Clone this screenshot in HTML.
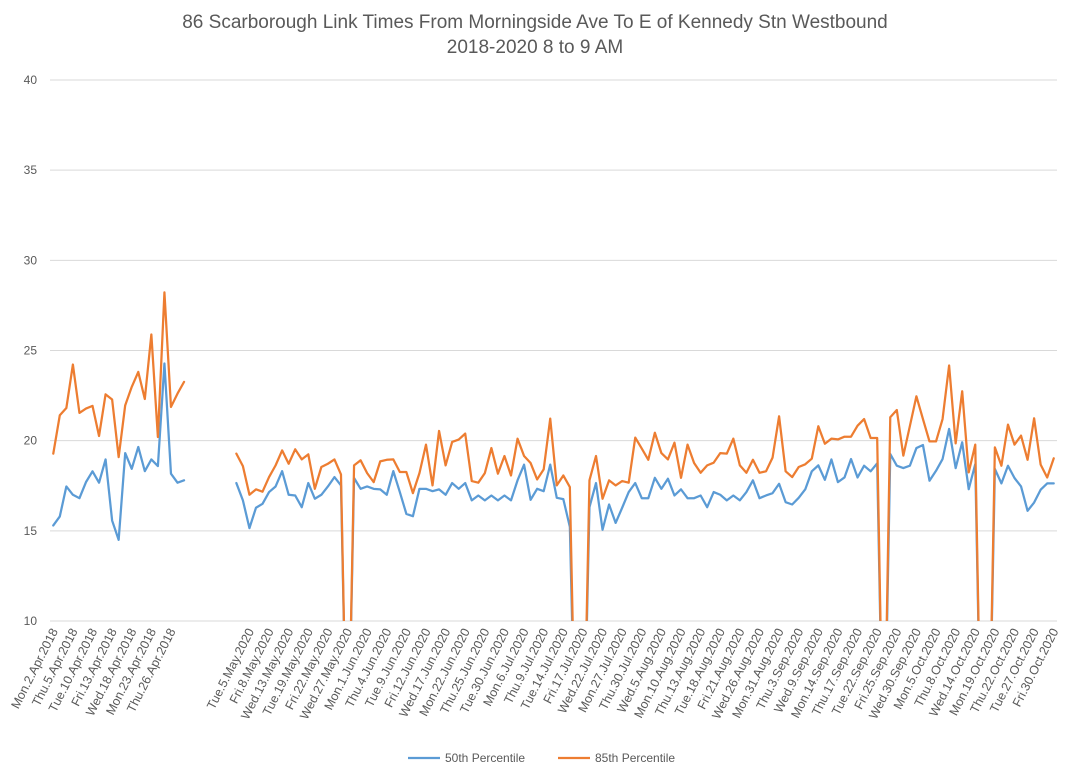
<!DOCTYPE html>
<html><head><meta charset="utf-8">
<style>
html,body{margin:0;padding:0;background:#fff;}
svg{display:block;font-family:"Liberation Sans",Arial,sans-serif;}
</style></head>
<body>
<svg id="chart" width="1070" height="770" viewBox="0 0 1070 770" xmlns="http://www.w3.org/2000/svg">
<rect x="0" y="0" width="1070" height="770" fill="#fff"/>
<text x="535" y="28" text-anchor="middle" font-size="19" fill="#595959">86 Scarborough Link Times From Morningside Ave To E of Kennedy Stn Westbound</text>
<text x="535" y="53" text-anchor="middle" font-size="19" fill="#595959">2018-2020 8 to 9 AM</text>
<defs><clipPath id="plotclip"><rect x="48" y="78" width="1012" height="543"/></clipPath></defs>
<g id="grid"></g>
<g id="yaxis"></g>
<g id="xaxis"></g>
<g id="series" clip-path="url(#plotclip)"></g>
<g>
  <g>
    <line x1="408" y1="758" x2="440" y2="758" stroke="#5B9BD5" stroke-width="2.25"/>
    <text x="445" y="762" font-size="12" fill="#595959">50th Percentile</text>
  </g>
  <g>
    <line x1="558" y1="758" x2="590" y2="758" stroke="#ED7D31" stroke-width="2.25"/>
    <text x="595" y="762" font-size="12" fill="#595959">85th Percentile</text>
  </g>
</g>
</svg>
<script>
// ---- data ----
const yTicks = [10, 15, 20, 25, 30, 35, 40];
const holidays2020 = ["2020-05-18", "2020-07-01", "2020-08-03", "2020-09-07", "2020-10-12"];
const blankCount = 7;
const p50_2018 = [15.30,15.80,17.46,17.00,16.81,17.70,18.30,17.67,18.96,15.57,14.50,19.31,18.44,19.65,18.31,18.96,18.59,24.28,18.17,17.67,17.80];
const p85_2018 = [19.28,21.41,21.81,24.22,21.54,21.78,21.93,20.26,22.57,22.28,19.09,21.96,22.98,23.81,22.31,25.89,20.20,28.22,21.87,22.61,23.26];
const p50_2020 = [17.65,16.69,15.15,16.28,16.5,17.15,17.46,18.31,17.0,16.96,16.31,17.65,16.78,17.0,17.46,17.98,17.52,0,17.93,17.33,17.46,17.33,17.30,17.0,18.31,17.15,15.94,15.81,17.33,17.33,
17.20,17.30,17.0,17.65,17.33,17.65,16.69,16.96,16.69,16.96,16.69,16.96,16.69,17.80,18.67,16.72,17.33,17.20,18.67,16.83,16.76,15.22,0,0,16.31,17.65,15.06,16.46,15.44,
16.28,17.15,17.65,16.81,16.81,17.94,17.33,17.89,16.96,17.30,16.81,16.81,16.96,16.31,17.15,17.0,16.69,16.96,16.69,17.15,17.80,16.81,16.96,17.09,17.61,16.59,16.46,16.83,17.30,18.30,18.63,17.83,18.96,17.70,
17.96,18.98,17.96,18.61,18.30,18.74,0,19.26,18.61,18.48,18.61,19.59,19.76,17.78,18.33,18.98,20.65,18.48,19.91,17.31,18.70,0,0,18.43,17.63,18.61,17.93,17.46,16.11,16.57,17.28,17.63,17.63];
const p85_2020 = [19.28,18.59,17.0,17.30,17.17,17.98,18.63,19.46,18.72,19.52,18.96,19.24,17.33,18.54,18.72,18.96,18.13,0,18.63,18.91,18.20,17.70,18.85,18.94,18.96,18.26,18.26,17.09,18.20,19.78,
17.52,20.54,18.63,19.93,20.06,20.39,17.76,17.67,18.20,19.59,18.17,19.15,18.07,20.11,19.15,18.76,17.85,18.41,21.22,17.52,18.07,17.43,0,0,17.80,19.15,16.78,17.80,17.52,
17.76,17.67,20.17,19.56,18.94,20.44,19.31,18.96,19.89,17.94,19.78,18.76,18.22,18.63,18.78,19.31,19.28,20.11,18.63,18.22,18.94,18.22,18.30,19.06,21.35,18.30,17.98,18.54,18.69,19.0,20.80,19.83,20.11,20.07,
20.22,20.22,20.83,21.20,20.15,20.15,0,21.30,21.70,19.17,20.81,22.46,21.20,19.96,19.96,21.20,24.17,19.85,22.74,18.24,19.78,0,0,19.63,18.61,20.89,19.78,20.28,18.94,21.24,18.67,17.96,19.02];

// ---- categories ----
const DAYS = ["Sun","Mon","Tue","Wed","Thu","Fri","Sat"];
const MONTHS = ["Jan","Feb","Mar","Apr","May","Jun","Jul","Aug","Sep","Oct","Nov","Dec"];
function fmt(d){return DAYS[d.getUTCDay()]+"."+d.getUTCDate()+"."+MONTHS[d.getUTCMonth()]+"."+d.getUTCFullYear();}
function weekdays(a,b,skip){const out=[];let d=new Date(a+"T00:00:00Z");const e=new Date(b+"T00:00:00Z");
  while(d<=e){const w=d.getUTCDay();const iso=d.toISOString().slice(0,10);
    if(w>0&&w<6&&skip.indexOf(iso)<0)out.push(fmt(d));d=new Date(d.getTime()+86400000);}return out;}
const cats2018 = weekdays("2018-04-02","2018-04-30",[]);
const cats2020 = weekdays("2020-05-01","2020-10-30",holidays2020);
const categories = cats2018.concat(new Array(blankCount).fill("")).concat(cats2020);
const p50 = p50_2018.concat(new Array(blankCount).fill(null)).concat(p50_2020);
const p85 = p85_2018.concat(new Array(blankCount).fill(null)).concat(p85_2020);

// ---- axes ----
const NS="http://www.w3.org/2000/svg";
const plotL=50, plotR=1057, plotT=80, plotB=621, yMin=10, yMax=40;
const n=categories.length;
const step=(plotR-plotL)/n;
function xPos(i){return plotL+step*(i+0.5);}
function yPos(v){return plotB-(v-yMin)/(yMax-yMin)*(plotB-plotT);}
function mk(tag,attrs,parent){const e=document.createElementNS(NS,tag);for(const k in attrs)e.setAttribute(k,attrs[k]);parent.appendChild(e);return e;}

const grid=document.getElementById('grid'), yax=document.getElementById('yaxis'), xax=document.getElementById('xaxis'), ser=document.getElementById('series');
yTicks.forEach(v=>{
  const l=mk('line',{x1:plotL,x2:plotR,y1:yPos(v),y2:yPos(v),stroke:'#d9d9d9','stroke-width':1},grid);
  
  
  const t=mk('text',{x:37,y:yPos(v)+4,'text-anchor':'end','font-size':12,fill:'#595959'},yax);
  t.textContent=String(v);
  
  
});
categories.forEach((c,i)=>{
  if(i%3!==0||!c)return;
  const x=xPos(i)+5, y=plotB+10;
  const t=mk('text',{x:x,y:y,'text-anchor':'end','font-size':12.5,fill:'#595959',transform:'rotate(-63 '+x+' '+y+')'},xax);
  t.textContent=c;
  
  
});

// ---- series ----
function drawSeries(vals,color,name){
  let segs=[],cur=[];
  vals.forEach((v,i)=>{if(v===null){if(cur.length)segs.push(cur);cur=[];}else cur.push(xPos(i).toFixed(2)+','+yPos(v).toFixed(2));});
  if(cur.length)segs.push(cur);
  segs.forEach(s=>{
    const p=mk('polyline',{points:s.join(' '),fill:'none',stroke:color,'stroke-width':2.25,'stroke-linejoin':'round','stroke-linecap':'round'},ser);
    
    
  });
}
drawSeries(p50,'#5B9BD5','series-50th-percentile');
drawSeries(p85,'#ED7D31','series-85th-percentile');
</script>
</body></html>
